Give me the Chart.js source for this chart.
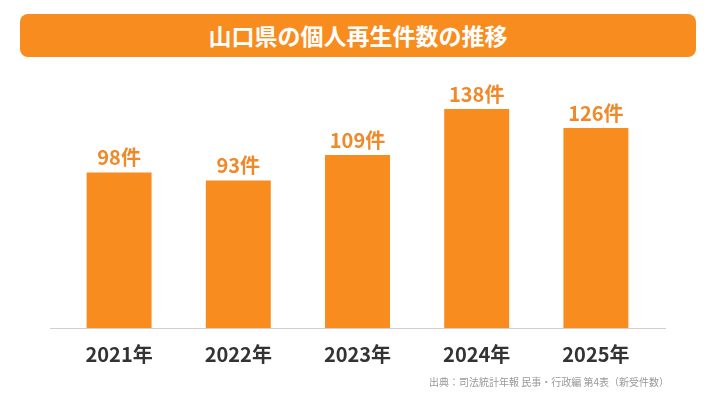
<!DOCTYPE html>
<html>
<head>
<meta charset="utf-8">
<script src="https://cdn.jsdelivr.net/npm/chart.js@4"></script>
<style>
  html, body { margin: 0; padding: 0; background: #fff; }
  #wrap { position: relative; width: 716px; height: 403px; overflow: hidden; }
  #title {
    position: absolute; left: 20px; top: 14px; width: 676px; height: 43px;
    background: #F88C1F; border-radius: 8px; color: #fff;
    font: bold 23px "Noto Sans CJK JP", sans-serif; text-align: center; line-height: 43px;
  }
  #source {
    position: absolute; right: 47px; top: 374px;
    font: 10px "Noto Sans CJK JP", sans-serif; color: #999;
  }
  canvas { position: absolute; left: 0; top: 0; }
</style>
</head>
<body>
<div id="wrap">
  <canvas id="chart" width="716" height="403"></canvas>
  <div id="title">山口県の個人再生件数の推移</div>
  <div id="source">出典：司法統計年報 民事・行政編 第4表（新受件数）</div>
</div>
<script>
// data
const years = ['2021年', '2022年', '2023年', '2024年', '2025年']
const cases = [98, 93, 109, 138, 126]

const barColor = '#F88C1F'
const labelColor = '#F0892A'
const font = '"Noto Sans CJK JP", "Noto Sans", sans-serif'

// value labels above each bar + the grey base line
const extras = {
  id: 'extras',
  afterDatasetsDraw(chart) {
    const ctx = chart.ctx
    const area = chart.chartArea
    ctx.save()
    ctx.strokeStyle = '#cfcfcf'
    ctx.lineWidth = 1
    ctx.beginPath()
    ctx.moveTo(50, area.bottom + 0.5)
    ctx.lineTo(666, area.bottom + 0.5)
    ctx.stroke()

    ctx.fillStyle = labelColor
    ctx.font = 'bold 20px ' + font
    ctx.textAlign = 'center'
    ctx.textBaseline = 'middle'
    chart.getDatasetMeta(0).data.forEach(function(bar, i){
      ctx.fillText(cases[i] + '件', bar.x, bar.y - 15)
    })
    ctx.restore()
  }
}

new Chart(document.getElementById('chart'), {
  type: 'bar',
  data: {
    labels: years,
    datasets: [{
      data: cases,
      backgroundColor: barColor,
      borderWidth: 0,
      categoryPercentage: 1,
      barPercentage: 0.545
    }]
  },
  options: {
    responsive: false,
    animation: false,
    layout: { padding: { top: 90, left: 59.5, right: 60.5, bottom: 23 } },
    plugins: { legend: { display: false }, tooltip: { enabled: false } },
    scales: {
      x: {
        grid: { display: false, drawTicks: false, tickLength: 0 },
        border: { display: false },
        ticks: { color: '#333', padding: 14, font: { family: font, size: 20, weight: 'bold' } }
      },
      y: {
        display: false,
        min: 0,
        max: 150
      }
    }
  },
  plugins: [extras]
})
</script>
</body>
</html>
